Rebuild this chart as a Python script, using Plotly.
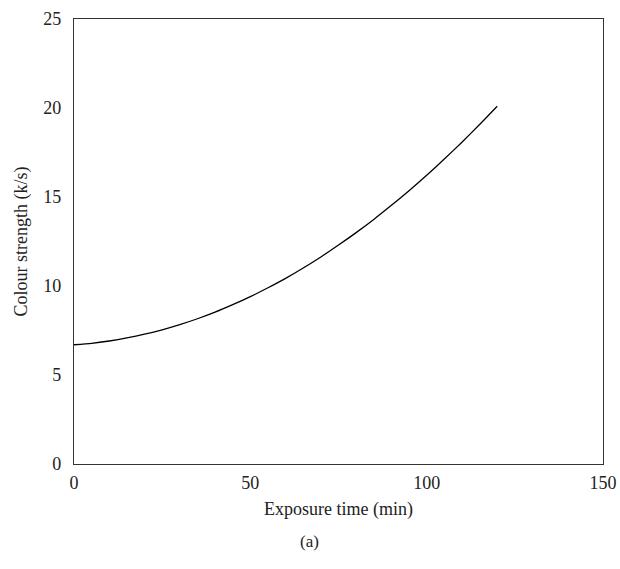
import plotly.graph_objects as go

exposure_time = [0, 5, 10, 15, 20, 25, 30, 35, 40, 45, 50, 55, 60, 65, 70, 75, 80, 85, 90, 95, 100, 105, 110, 115, 120]
colour_strength = [6.70, 6.78, 6.91, 7.08, 7.29, 7.54, 7.83, 8.16, 8.53, 8.95, 9.40, 9.90, 10.43,
                   11.01, 11.63, 12.30, 13.00, 13.74, 14.53, 15.35, 16.22, 17.13, 18.08, 19.07, 20.10]

x_ticks = [0, 50, 100, 150]
y_ticks = [0, 5, 10, 15, 20, 25]

FONT = "Liberation Serif"
TXT = "#222222"

fig = go.Figure()
fig.add_trace(go.Scatter(
    x=exposure_time, y=colour_strength, mode="lines",
    line=dict(color="black", width=1.3, shape="spline", smoothing=0.6),
    showlegend=False, hoverinfo="skip",
))

axis_common = dict(
    showgrid=False, zeroline=False, showline=True, linecolor="#333333", linewidth=1.3,
    mirror=True, ticks="", tickfont=dict(family=FONT, size=18, color=TXT),
)

fig.update_xaxes(range=[0, 150], tickvals=x_ticks, ticklabelstandoff=2,
                 title=dict(text="Exposure time (min)", font=dict(family=FONT, size=18, color=TXT), standoff=10),
                 **axis_common)
fig.update_yaxes(range=[0, 25], tickvals=y_ticks, ticklabelstandoff=8,
                 title=dict(text="Colour strength (k/s)", font=dict(family=FONT, size=18, color=TXT), standoff=10),
                 **axis_common)

# plot area height = 569 - 19 - 105 = 445 px; "(a)" sits ~77 px below the x axis
fig.add_annotation(text="(a)", xref="paper", yref="paper", x=0.446, y=-77 / 445,
                   xanchor="center", yanchor="middle",
                   showarrow=False, font=dict(family=FONT, size=17, color=TXT))

fig.update_layout(
    width=620, height=569,
    margin=dict(l=74, r=17, t=19, b=105, autoexpand=False),
    paper_bgcolor="white", plot_bgcolor="white",
)

# remove the default 8px page margin so the figure fills the window exactly
fig.write_html("out.html", config={"displayModeBar": False},
               post_script="document.body.style.margin='0';document.body.style.overflow='hidden';")
